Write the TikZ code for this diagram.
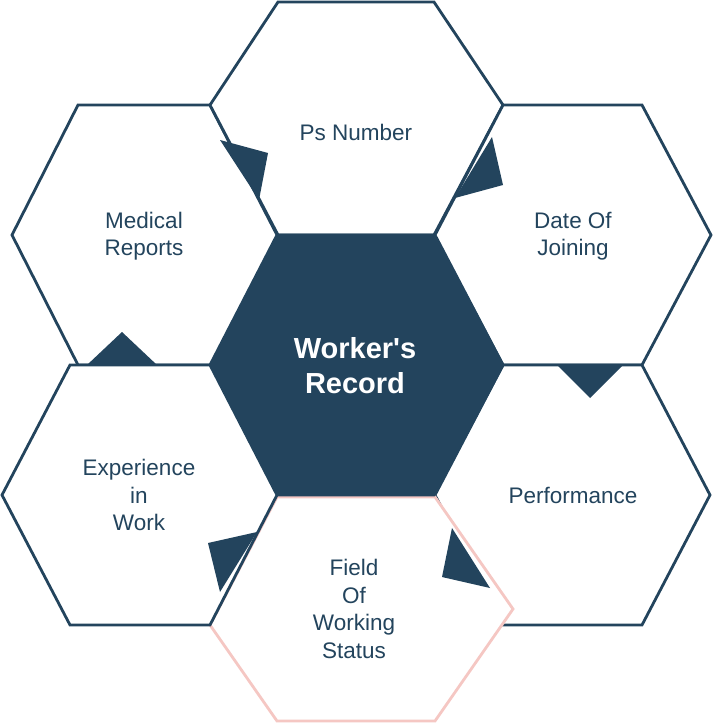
\documentclass[tikz,border=0pt]{standalone}
\usepackage{fontspec}
\setmainfont{Liberation Sans}
\usepackage{tikz}
\usetikzlibrary{positioning}
\definecolor{navy}{HTML}{23445D}
\definecolor{blush}{HTML}{F5C7C3}
\tikzset{
  hexcell/.style={draw=navy, fill=white, line width=2.8pt, line join=miter},
  hexpink/.style={draw=blush, fill=white, line width=2.8pt, line join=miter},
  hexcore/.style={draw=navy, fill=navy, line width=2.8pt, line join=miter},
  pointer/.style={fill=navy},
  cell label/.style={text=navy, align=center, font=\fontsize{22.5}{27.5}\selectfont},
  core label/.style={text=white, align=center, font=\bfseries\fontsize{29}{35}\selectfont}
}
\begin{document}
\begin{tikzpicture}[x=1pt,y=-1pt]
		\useasboundingbox (0,0) rectangle (713,723);

		% outer hexagons
		\draw[hexcell] (78,105) -- (210,105) -- (277,235) -- (210,365) -- (78,365) -- (12,235) -- cycle;
		\draw[hexcell] (278,2) -- (434,2) -- (503,105) -- (434,235) -- (278,235) -- (210,105) -- cycle;
		\draw[hexcell] (503,105) -- (642,105) -- (711,235) -- (642,365) -- (503,365) -- (435,235) -- cycle;
		\draw[hexcell] (503,365) -- (642,365) -- (710,495) -- (642,625) -- (503,625) -- (435,495) -- cycle;
		\draw[hexpink] (277,497) -- (435,497) -- (513,609) -- (435,721) -- (277,721) -- (210,625) -- cycle;
		\draw[hexcell] (70,365) -- (210,365) -- (277,495) -- (210,625) -- (70,625) -- (2,495) -- cycle;

		% centre
		\draw[hexcore] (278,235) -- (434,235) -- (503,365) -- (434,495) -- (278,495) -- (212,365) -- cycle;

		% pointers
		\fill[pointer] (220,140) -- (268,153) -- (259,200) -- cycle;
		\fill[pointer] (492,137) -- (503,185) -- (455,198) -- cycle;
		\fill[pointer] (87,365) -- (157,365) -- (122,332) -- cycle;
		\fill[pointer] (557,365) -- (623,365) -- (590,398) -- cycle;
		\fill[pointer] (208,543) -- (257,532) -- (220,592) -- cycle;
		\fill[pointer] (452,528) -- (490,588) -- (442,577) -- cycle;

		% labels
		\node[core label] (record) at (355,366) {Worker\textquotesingle s\\Record};
		\node[cell label] (ps) at (356,132) {Ps Number};
		\node[cell label] (medical) at (144,236) {Medical\\Reports};
		\node[cell label] (joining) at (573,236) {Date Of\\Joining};
		\node[cell label] (experience) at (139,495) {Experience\\in\\Work};
		\node[cell label] (performance) at (573,495) {Performance};
		\node[cell label] (field) at (354,609) {Field\\Of\\Working\\Status};
	\end{tikzpicture}
\end{document}
